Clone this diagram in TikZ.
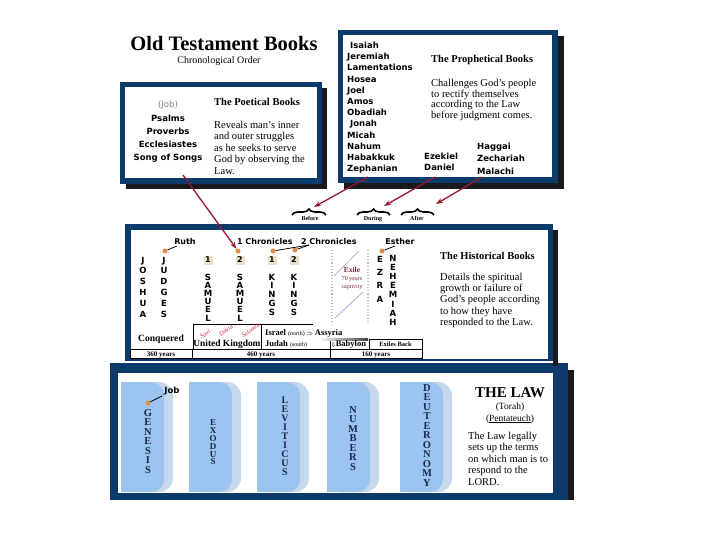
\documentclass[tikz,border=0pt]{standalone}
\usepackage{fontspec}
\setmainfont{Liberation Serif}
\newfontfamily\dvs{DejaVu Sans}
\usetikzlibrary{decorations.pathreplacing,arrows.meta}
\definecolor{navy}{RGB}{12,58,106}
\definecolor{shadowc}{RGB}{25,25,30}
\definecolor{dotor}{RGB}{228,140,60}
\definecolor{arrred}{RGB}{150,25,45}
\definecolor{tabblue}{RGB}{156,196,240}
\definecolor{tabedge}{RGB}{198,216,236}
\definecolor{hl}{RGB}{232,225,200}
\definecolor{exilec}{RGB}{110,40,40}
\definecolor{diagc}{RGB}{150,155,215}
\definecolor{kingred}{RGB}{200,40,70}
\definecolor{lawtext}{RGB}{25,40,75}
\newcommand\vword[6]{\foreach \vv [count=\nn] in {#6} {\node[#5] (#1\nn) at (#2,{#3+(\nn-1)*#4}) {\vv};}}
\newcommand\lawtab[1]{%
  \fill[tabedge,rounded corners=14pt] (#1,382) rectangle ({#1+52},492);
  \fill[tabedge] (#1,382) rectangle ({#1+20},492);
  \fill[tabblue,rounded corners=13pt] (#1,382) rectangle ({#1+43},492);
  \fill[tabblue] (#1,382) rectangle ({#1+20},492);}
\begin{document}
\begin{tikzpicture}[x=1pt,y=-1pt,
  plist/.style={font=\dvs\bfseries\fontsize{8.5}{10}\selectfont, inner sep=0pt, anchor=base west},
  pcen/.style={font=\dvs\bfseries\fontsize{8.5}{10}\selectfont, inner sep=0pt, anchor=base},
  desc/.style={font=\fontsize{10.5}{11.4}\selectfont, align=left, anchor=north west, inner sep=0pt},
  head/.style={font=\bfseries\fontsize{10.5}{12}\selectfont, anchor=base west, inner sep=0pt},
  vsans/.style={font=\dvs\bfseries\fontsize{8.5}{9}\selectfont, inner sep=0pt, text height=6.2pt, text depth=0pt},
  vser/.style={font=\bfseries\fontsize{#1}{#1}\selectfont, text=lawtext, inner sep=0pt, text height={0.66*#1 pt}, text depth=0pt},
  hlbox/.style={font=\dvs\bfseries\fontsize{8}{9}\selectfont, fill=hl, minimum width=9pt, minimum height=9pt, inner sep=0pt},
  dot/.style={circle, fill=dotor, inner sep=0pt, minimum size=5pt},
  link/.style={draw=black, line width=0.8pt},
  redarrow/.style={draw=arrred, line width=1.3pt, -{Stealth[length=7pt,width=5pt]}},
  bracec/.style={decorate, decoration={brace,amplitude=6pt}, line width=1.6pt},
  blab/.style={font=\bfseries\fontsize{6}{7}\selectfont, inner sep=0pt, anchor=base},
  tcell/.style={draw=black, line width=0.6pt},
  small/.style={font=\bfseries\fontsize{7}{8}\selectfont, inner sep=0pt, anchor=base},
  king/.style={font=\itshape\fontsize{6.2}{7}\selectfont, text=kingred, inner sep=0pt, rotate=35, text height=4pt, text depth=0pt},
  exl/.style={text=exilec, inner sep=0pt}
]
\useasboundingbox (0,0) rectangle (720,540);
\fill[white] (0,0) rectangle (720,540);

% ---------- title ----------
\node[font=\bfseries\fontsize{20.5}{22}\selectfont, anchor=base, inner sep=0pt] (title) at (224,51) {Old Testament Books};
\node[font=\fontsize{10}{12}\selectfont, anchor=base, inner sep=0pt] (sub) at (219,64) {Chronological Order};

% ---------- frames ----------
\fill[shadowc] (568,370) rectangle (574,500);
\fill[navy] (110,363) rectangle (568,500);
\fill[white] (118,373) rectangle (553,493);

\fill[shadowc] (553,230) rectangle (558,366);
\fill[navy] (125,224) rectangle (553,361);
\fill[white] (131,230) rectangle (548,359);

\fill[shadowc] (126,88) rectangle (327,189);
\fill[navy] (120,82) rectangle (322,184);
\fill[white] (125,87) rectangle (317,178);

\fill[shadowc] (344,36) rectangle (564,189);
\fill[navy] (338,30) rectangle (558,183);
\fill[white] (343,35) rectangle (552,177);

% ---------- poetical ----------
\node[pcen, font=\dvs\fontsize{8.5}{10}\selectfont, text=gray] (job0) at (168,107.2) {(Job)};
\node[pcen] (psa) at (168,121.2) {Psalms};
\node[pcen] (pro) at (168,134.2) {Proverbs};
\node[pcen] (ecc) at (168,147.2) {Ecclesiastes};
\node[pcen] (sos) at (168,160.2) {Song of Songs};
\node[head] (poeth) at (214,106) {The Poetical Books};
\node[desc] (poetd) at (214,121) {Reveals man's inner\\and outer struggles\\as he seeks to serve\\God by observing the\\Law.};

% ---------- prophetical ----------
\foreach \t/\dx [count=\k] in {Isaiah/3,Jeremiah/0,Lamentations/0,Hosea/0,Joel/0,Amos/0,Obadiah/0,Jonah/3,Micah/0,Nahum/0,Habakkuk/0,Zephanian/0}
  \node[plist] (pr\k) at ({347+\dx},{48.5+(\k-1)*11.2}) {\t};
\node[plist] (eze) at (424,159.5) {Ezekiel};
\node[plist] (dan) at (424,171) {Daniel};
\node[plist] (hag) at (477,150) {Haggai};
\node[plist] (zec) at (477,161.5) {Zechariah};
\node[plist] (mal) at (477,174.5) {Malachi};
\node[head] (proh) at (431,63) {The Prophetical Books};
\node[desc, font=\fontsize{10.5}{10.7}\selectfont] (prod) at (431,79) {Challenges God's people\\to rectify themselves\\according to the Law\\before judgment comes.};

% ---------- braces ----------
\draw[bracec] (292,215) -- (326,215);
\draw[bracec] (357,215) -- (390,215);
\draw[bracec] (401,215) -- (434,215);
\coordinate (tipB) at (314,207);
\coordinate (tipD) at (384,206);
\coordinate (tipA) at (436,204);
\node[blab] (before) at (310,221) {Before};
\node[blab] (during) at (373,221) {During};
\node[blab] (after) at (417,221) {After};

% ---------- historical ----------
\node[pcen, font=\dvs\bfseries\fontsize{8}{9}\selectfont] (ruth) at (185,244) {Ruth};
\node[plist, font=\dvs\bfseries\fontsize{8}{9}\selectfont] (ch1) at (237,244) {1\,\,Chronicles};
\node[plist, font=\dvs\bfseries\fontsize{8}{9}\selectfont] (ch2) at (301,244) {2\,\,Chronicles};
\node[pcen, font=\dvs\bfseries\fontsize{8}{9}\selectfont] (est) at (400,244) {Esther};

\node[dot] (druth) at (165,251) {};
\node[dot] (dsam2) at (238,251) {};
\node[dot] (dkg1) at (273,251) {};
\node[dot] (dkg2) at (295,250) {};
\node[dot] (dest) at (382,251) {};
\coordinate (rl) at (177,246);
\draw[link] (rl) -- (druth);
\coordinate (c2) at (309,245);
\draw[link] (c2) -- (dkg1);
\draw[link] (c2) -- (dkg2);
\coordinate (el) at (395,246);
\draw[link] (el) -- (dest);

\vword{jos}{143}{260}{10.8}{vsans}{J,O,S,H,U,A}
\vword{jud}{164}{260}{10.8}{vsans}{J,U,D,G,E,S}
\node[hlbox] (hs1) at (208,260) {1};
\node[hlbox] (hs2) at (240,260) {2};
\node[hlbox] (hk1) at (272,260) {1};
\node[hlbox] (hk2) at (294,260) {2};
\vword{sa}{208}{277}{8.2}{vsans}{S,A,M,U,E,L}
\vword{sb}{240}{277}{8.2}{vsans}{S,A,M,U,E,L}
\vword{ka}{272}{277}{8.75}{vsans}{K,I,N,G,S}
\vword{kb}{294}{277}{8.75}{vsans}{K,I,N,G,S}
\vword{ezr}{380}{259}{13.3}{vsans}{E,Z,R,A}
\vword{neh}{393}{258}{9.2}{vsans}{N,E,H,E,M,I,A,H}

% exile
\draw[gray!55, dotted, line width=1.1pt] (332,250) -- (332,322);
\draw[gray!55, dotted, line width=1.1pt] (368,250) -- (368,322);
\draw[diagc, line width=0.6pt] (334,276) -- (359,251);
\draw[diagc, line width=0.6pt] (335,318) -- (363,292);
\node[exl, font=\bfseries\fontsize{7.5}{8}\selectfont] (exile) at (352,270) {Exile};
\node[exl, font=\fontsize{6}{7}\selectfont] (exy) at (352,279) {70 years};
\node[exl, font=\fontsize{6}{7}\selectfont] (exc) at (352,287) {captivity};

\node[head] (hish) at (440,259) {The Historical Books};
\node[desc, font=\fontsize{10.5}{11.25}\selectfont] (hisd) at (440,273) {Details the spiritual\\growth or failure of\\God's people according\\to how they have\\responded to the Law.};

% table
\draw[tcell] (193,324) rectangle (261,349);
\draw[tcell] (261,324) -- (313,324);
\draw[tcell] (369,339) rectangle (422,349);
\draw[tcell] (130,349) rectangle (422,358);
\draw[tcell] (192,349) -- (192,358);
\draw[tcell] (330,339) -- (330,358);
\shade[left color=white, right color=black!75] (318,338.2) rectangle (368,340.2);
\node[font=\bfseries\fontsize{9.6}{11}\selectfont, anchor=base, inner sep=0pt] (conq) at (161,341.5) {Conquered};
\node[font=\bfseries\fontsize{9.4}{11}\selectfont, anchor=base, inner sep=0pt] (uk) at (227,346.5) {United Kingdom};
\node[king] (saul) at (205,334) {Saul};
\node[king] (david) at (226,330.5) {David};
\node[king] (solo) at (251,330) {Solomon};
\node[anchor=base west, inner sep=0pt, font=\bfseries\fontsize{8.5}{10}\selectfont] (isr) at (265,335) {Israel {\mdseries\fontsize{6}{7}\selectfont(north)}\,{\fontsize{6}{7}\selectfont$\Rightarrow$}\,Assyria};
\node[anchor=base west, inner sep=0pt, font=\bfseries\fontsize{8.5}{10}\selectfont] (jud) at (265,346.5) {Judah {\mdseries\fontsize{6}{7}\selectfont(south)}};
\node[anchor=base west, inner sep=0pt, font=\bfseries\fontsize{8.5}{10}\selectfont] (bab) at (331,346.5) {{\fontsize{6}{7}\selectfont$\Downarrow$}Babylon};
\node[small, font=\bfseries\fontsize{6.5}{7}\selectfont] (exb) at (395.5,346.5) {Exiles Back};
\node[small] (y360) at (161,356.5) {360 years};
\node[small] (y460) at (261,356.5) {460 years};
\node[small] (y160) at (376,356.5) {160 years};

% ---------- law ----------
\lawtab{121}
\lawtab{189}
\lawtab{257}
\lawtab{327}
\lawtab{400}
\vword{gen}{148}{413}{9.5}{vser=10.5}{G,E,N,E,S,I,S}
\vword{exo}{213}{423}{7.8}{vser=9}{E,X,O,D,U,S}
\vword{lev}{285}{400}{9}{vser=10}{L,E,V,I,T,I,C,U,S}
\vword{num}{353}{410}{9.5}{vser=10.5}{N,U,M,B,E,R,S}
\vword{deu}{427}{388}{9.5}{vser=10.5}{D,E,U,T,E,R,O,N,O,M,Y}
\node[pcen] (jobl) at (172,393) {Job};
\node[dot] (djob) at (148,403) {};
\coordinate (jl) at (162,396);
\draw[link] (jl) -- (djob);
\node[font=\bfseries\fontsize{15}{16}\selectfont, anchor=base, inner sep=0pt] (law) at (510,397) {THE LAW};
\node[font=\fontsize{9.5}{11}\selectfont, anchor=base, inner sep=0pt] (torah) at (510,409) {(Torah)};
\node[font=\fontsize{9.5}{11}\selectfont, anchor=base, inner sep=0pt] (pent) at (510,421) {(\underline{Pentateuch})};
\node[desc, font=\fontsize{10.5}{11.4}\selectfont] (lawd) at (468,432) {The Law legally\\sets up the terms\\on which man is to\\respond to the\\LORD.};

% ---------- red arrows ----------
\coordinate (az) at (368,177);
\coordinate (ad) at (435,177);
\coordinate (am) at (482,177);
\coordinate (ap) at (183,175);
\draw[redarrow] (az) -- (tipB);
\draw[redarrow] (ad) -- (tipD);
\draw[redarrow] (am) -- (tipA);
\draw[redarrow] (ap) -- (dsam2);
\end{tikzpicture}
\end{document}
